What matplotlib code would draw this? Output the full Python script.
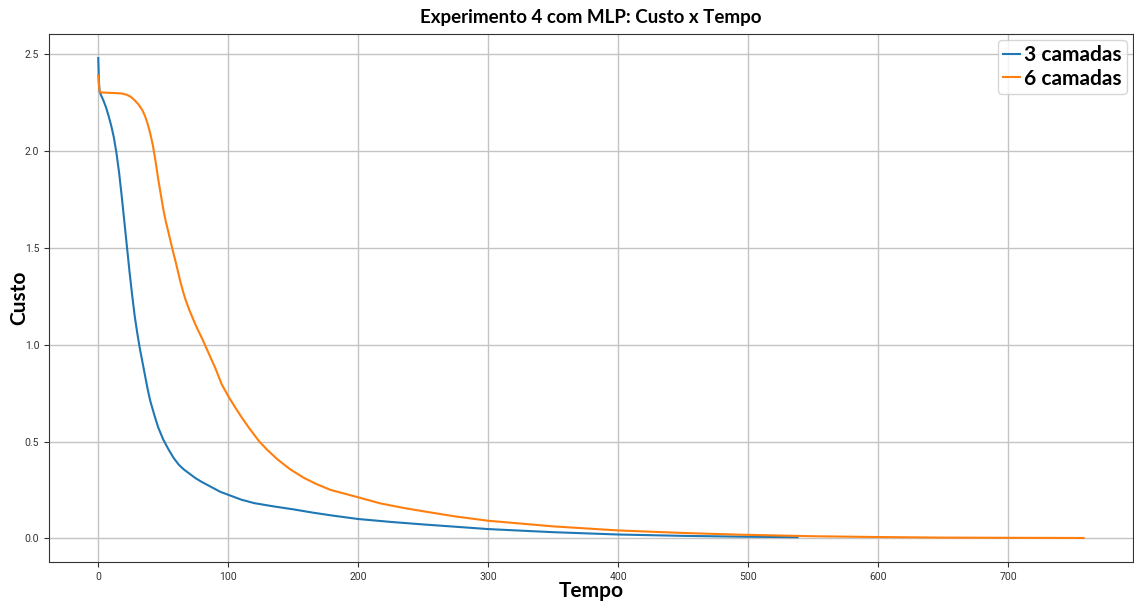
import matplotlib
matplotlib.use("Agg")
import matplotlib.pyplot as plt

# 3 camadas (azul)
tempo_3 = [0, 0.5, 1, 2, 4, 6, 8, 10, 12, 14, 16, 18, 20, 22, 24, 26, 28, 30,
           32, 34, 36, 38, 40, 43, 46, 50, 54, 58, 62, 66, 70, 75, 80, 87, 94,
           100, 110, 120, 135, 150, 165, 180, 200, 225, 250, 275, 300, 350,
           400, 450, 494, 538]
custo_3 = [2.48, 2.36, 2.31, 2.29, 2.26, 2.225, 2.18, 2.13, 2.07, 1.99, 1.89,
           1.77, 1.64, 1.51, 1.38, 1.26, 1.15, 1.06, 0.98, 0.91, 0.84, 0.77,
           0.71, 0.64, 0.575, 0.51, 0.46, 0.415, 0.38, 0.355, 0.335, 0.31,
           0.29, 0.265, 0.24, 0.225, 0.20, 0.182, 0.165, 0.15, 0.133, 0.118,
           0.10, 0.085, 0.072, 0.06, 0.048, 0.032, 0.02, 0.013, 0.009, 0.006]

# 6 camadas (laranja)
tempo_6 = [0, 0.5, 1, 2, 10, 18, 22, 25, 28, 31, 34, 36, 38, 40, 42, 44, 46,
           48, 50, 52, 54, 57, 60, 63, 65, 67, 70, 75, 80, 85, 90, 95, 100,
           105, 110, 116, 123.9, 130, 138, 148, 158.3, 168, 178.8, 190, 200,
           216.8, 235, 250, 275, 300, 350, 400, 450, 494, 550, 600, 650, 700,
           758]
custo_6 = [2.39, 2.34, 2.31, 2.302, 2.30, 2.297, 2.29, 2.28, 2.262, 2.24,
           2.21, 2.18, 2.14, 2.09, 2.03, 1.95, 1.86, 1.78, 1.70, 1.635, 1.58,
           1.495, 1.415, 1.33, 1.28, 1.235, 1.18, 1.10, 1.03, 0.955, 0.88,
           0.795, 0.734, 0.68, 0.628, 0.57, 0.5, 0.457, 0.407, 0.355, 0.312,
           0.28, 0.25, 0.23, 0.212, 0.181, 0.157, 0.14, 0.113, 0.091, 0.062,
           0.041, 0.028, 0.019, 0.011, 0.007, 0.004, 0.003, 0.002]

fig = plt.figure(figsize=(11.34, 6.01), dpi=100)
ax = fig.add_axes([0.0432, 0.0649, 0.9558, 0.8785])

ax.plot(tempo_3, custo_3, color="#1f77b4", linewidth=1.5, label="3 camadas")
ax.plot(tempo_6, custo_6, color="#ff7f0e", linewidth=1.5, label="6 camadas")

ax.grid(True, color="#c4c4c4", linewidth=1.0)
ax.set_axisbelow(True)
ax.tick_params(labelsize=7.5, colors="#333333")
for lbl in ax.get_xticklabels() + ax.get_yticklabels():
    lbl.set_family("Roboto")
for s in ax.spines.values():
    s.set_color("#333333")

ax.set_title("Experimento 4 com MLP: Custo x Tempo", fontsize=13.5,
             fontweight="bold", family="Lato", pad=8)
ax.set_xlabel("Tempo", fontsize=15, fontweight="bold", family="Lato",
              labelpad=-0.5)
ax.set_ylabel("Custo", fontsize=15, fontweight="bold", family="Lato",
              labelpad=-3)
ax.legend(loc="upper right", prop={"family": "Lato", "weight": "bold",
                                   "size": 15},
          handlelength=0.8, handletextpad=0.2, borderpad=0.25,
          labelspacing=0.15, borderaxespad=0.3)

fig.savefig("out.png", dpi=100)
